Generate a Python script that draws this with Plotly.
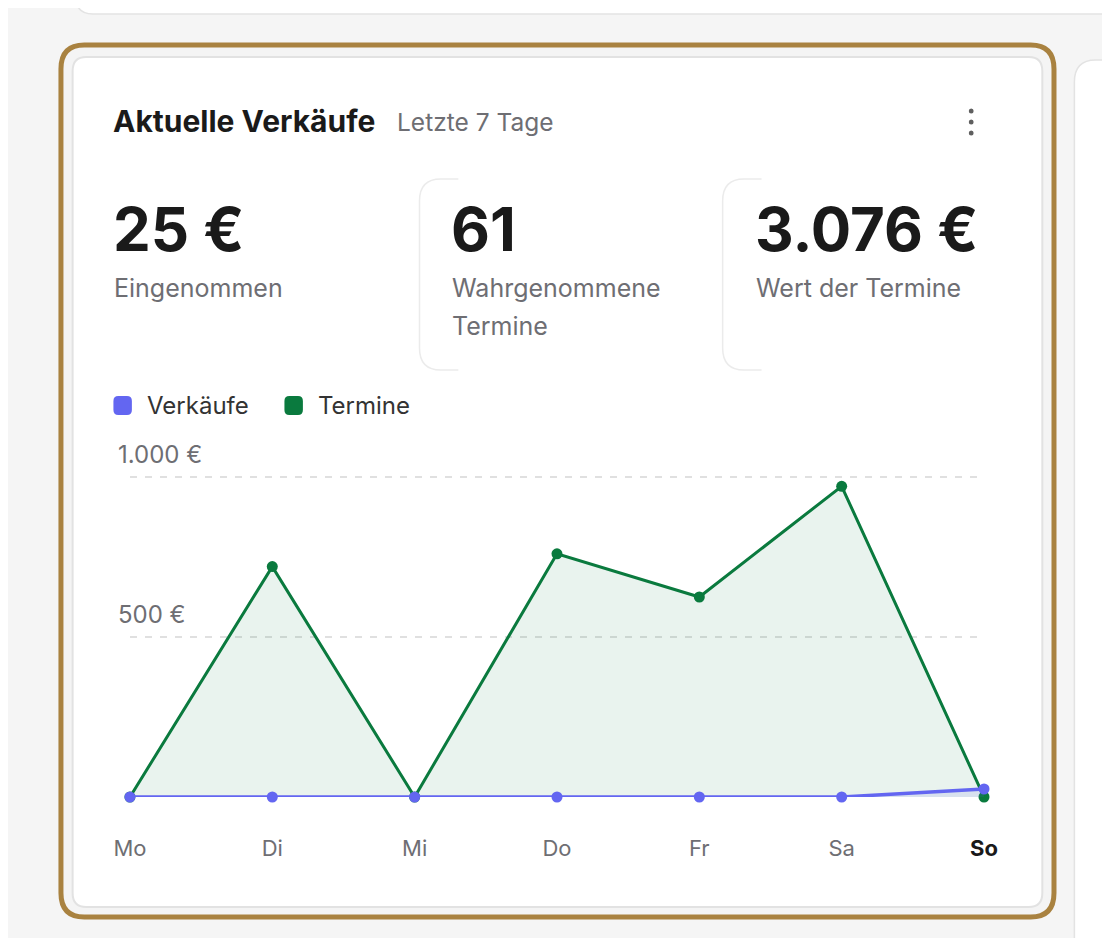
import plotly.graph_objects as go

# figure sized so that it fits the 1110x946 window together with the 8px page margin
OFF = 8
W, H = 1110 - 2 * OFF, 946 - 2 * OFF

days = ["Mo", "Di", "Mi", "Do", "Fr", "Sa", "So"]
verkaeufe = [0, 0, 0, 0, 0, 0, 25]
termine = [0, 720, 0, 760, 625, 971, 0]
y_ticks = [500, 1000]

title = "Aktuelle Verkäufe"
subtitle = "Letzte 7 Tage"
kpi_values = ["25 €", "61", "3.076 €"]
kpi_labels = [["Eingenommen"], ["Wahrgenommene", "Termine"], ["Wert der Termine"]]
series_names = ["Verkäufe", "Termine"]

C_BLUE = "#6366f1"
C_GREEN = "#0a7a3e"
C_GOLD = "#a98240"
C_TEXT = "#1a1a1a"
C_GRAY = "#6e6e73"
FONT = "Inter"


def X(px):
    return (px - OFF) / W


def Y(py):
    return 1 - (py - OFF) / H


def rrect(x0, y0, x1, y1, r):
    return (f"M {X(x0 + r)},{Y(y0)} L {X(x1 - r)},{Y(y0)} "
            f"Q {X(x1)},{Y(y0)} {X(x1)},{Y(y0 + r)} L {X(x1)},{Y(y1 - r)} "
            f"Q {X(x1)},{Y(y1)} {X(x1 - r)},{Y(y1)} L {X(x0 + r)},{Y(y1)} "
            f"Q {X(x0)},{Y(y1)} {X(x0)},{Y(y1 - r)} L {X(x0)},{Y(y0 + r)} "
            f"Q {X(x0)},{Y(y0)} {X(x0 + r)},{Y(y0)} Z")


def left_edge(x, y0, y1, r, ext):
    return (f"M {X(x + ext)},{Y(y0)} L {X(x + r)},{Y(y0)} Q {X(x)},{Y(y0)} {X(x)},{Y(y0 + r)} "
            f"L {X(x)},{Y(y1 - r)} Q {X(x)},{Y(y1)} {X(x + r)},{Y(y1)} L {X(x + ext)},{Y(y1)}")


shapes = []
shapes.append(dict(type="path", path=rrect(60, -40, 1180, 14, 18), fillcolor="white",
                   line=dict(color="#e3e3e3", width=1.5), xref="paper", yref="paper", layer="below"))
shapes.append(dict(type="path", path=rrect(1088, 60, 1180, 1000, 22), fillcolor="white",
                   line=dict(color="#e3e3e3", width=1.5), xref="paper", yref="paper", layer="below"))
shapes.append(dict(type="path", path=rrect(60, 940, 1180, 1000, 18), fillcolor="white",
                   line=dict(color="#e3e3e3", width=1.5), xref="paper", yref="paper", layer="below"))
shapes.append(dict(type="path", path=rrect(45, 45, 1067, 917, 24), fillcolor="#f4f4f4",
                   line=dict(color=C_GOLD, width=5), xref="paper", yref="paper", layer="below"))
shapes.append(dict(type="path", path=rrect(57, 57, 1055, 907, 14), fillcolor="white",
                   line=dict(color="#e2e2e2", width=2), xref="paper", yref="paper", layer="below"))
for xe in [414, 726]:
    shapes.append(dict(type="path", path=left_edge(xe, 179, 370, 22, 40),
                       line=dict(color="#ebebeb", width=1.5), xref="paper", yref="paper", layer="below"))
for yd in [111, 122, 133]:
    shapes.append(dict(type="circle", x0=X(979.3), x1=X(984.3), y0=Y(yd + 2.5), y1=Y(yd - 2.5),
                       fillcolor="#5f5f5f", line=dict(width=0), xref="paper", yref="paper"))
for xs, col in [(99, C_BLUE), (275, C_GREEN)]:
    shapes.append(dict(type="path", path=rrect(xs, 396, xs + 19, 415, 5), fillcolor=col,
                       line=dict(width=0), xref="paper", yref="paper"))

annotations = []


def txt(x, y, s, size, color, bold=False, xanchor="left", yanchor="middle", xref="paper", yref="paper", yshift=0):
    annotations.append(dict(x=x, y=y, xref=xref, yref=yref, text=f"<b>{s}</b>" if bold else s,
                            showarrow=False, xanchor=xanchor, yanchor=yanchor, yshift=yshift,
                            font=dict(family=FONT, size=size, color=color), align="left"))


txt(X(97), Y(121), title, 30, C_TEXT, bold=True)
txt(X(389), Y(122), subtitle, 24.5, C_GRAY)

kx = [97, 444, 757]
for i in range(3):
    txt(X(kx[i]), Y(229), kpi_values[i], 60, C_TEXT, bold=True)
    for j, line in enumerate(kpi_labels[i]):
        txt(X(kx[i] + 1), Y(288 + 38 * j), line, 25, C_GRAY)

txt(X(132), Y(405), series_names[0], 24, "#333333")
txt(X(308), Y(405), series_names[1], 24, "#333333")

for v in y_ticks:
    txt(X(102), v, f"{v:,} €".replace(",", "."), 24, C_GRAY, xref="paper", yref="y",
        yanchor="bottom", yshift=6)

fig = go.Figure()
fig.add_trace(go.Scatter(x=days, y=termine, name=series_names[1], mode="lines+markers",
                         line=dict(color=C_GREEN, width=3), marker=dict(size=11, color=C_GREEN),
                         fill="tozeroy", fillcolor="rgba(10,122,62,0.09)", cliponaxis=False))
fig.add_trace(go.Scatter(x=days, y=verkaeufe, name=series_names[0], mode="lines+markers",
                         line=dict(color=C_BLUE, width=3.5), marker=dict(size=11, color=C_BLUE),
                         fill="tozeroy", fillcolor="rgba(99,102,241,0.12)", cliponaxis=False))

ticktext = [d if d != "So" else f'<span style="color:{C_TEXT}"><b>{d}</b></span>' for d in days]

PX_PER = (797 - 637) / 500.0
YMAX = 1010
fig.update_layout(
    width=W, height=H, margin=dict(l=0, r=0, t=0, b=0),
    paper_bgcolor="#f5f5f5", plot_bgcolor="rgba(0,0,0,0)",
    showlegend=False, shapes=shapes, annotations=annotations,
    xaxis=dict(domain=[X(116), X(995)], range=[0, 6], type="category",
               tickvals=days, ticktext=ticktext, showgrid=False, zeroline=False, showline=False,
               ticks="outside", ticklen=32, tickcolor="rgba(0,0,0,0)",
               tickfont=dict(family=FONT, size=22, color=C_GRAY), fixedrange=True),
    yaxis=dict(domain=[Y(797), Y(797 - YMAX * PX_PER)], range=[0, YMAX], tickvals=y_ticks,
               showticklabels=False, showgrid=True, gridcolor="#e0e0e0", griddash="7px,8px", gridwidth=1.6,
               zeroline=False, showline=False, fixedrange=True),
    font=dict(family=FONT),
)

fig.write_html("out.html")
